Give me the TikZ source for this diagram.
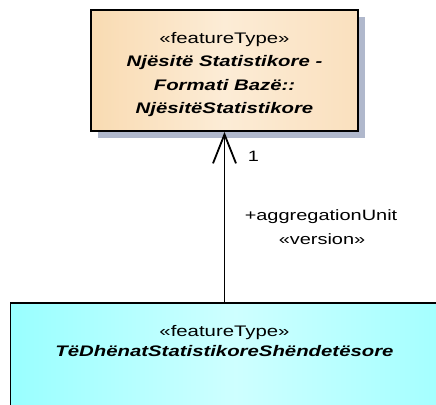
\documentclass[tikz,border=0pt]{standalone}
\usepackage{fontspec}
\setmainfont{Liberation Sans}[FakeStretch=1.33]
\usetikzlibrary{positioning}
\usetikzlibrary{arrows.meta, shadows}
\definecolor{tanleft}{RGB}{249,219,178}
\definecolor{tanmid}{RGB}{252,236,214}
\definecolor{tanright}{RGB}{250,224,190}
\definecolor{cyanleft}{RGB}{153,255,255}
\definecolor{cyanmid}{RGB}{206,255,255}
\definecolor{cyanright}{RGB}{160,255,255}
\definecolor{shadowgrey}{RGB}{176,184,204}

\begin{document}
\begin{tikzpicture}[x=1pt,y=-1pt,
  umlbox/.style={rectangle,draw=black,line width=1.9pt,inner sep=0pt,
    general shadow={fill=shadowgrey,shadow xshift=7pt,shadow yshift=-7pt}},
  tanbox/.style={umlbox,left color=tanleft,right color=tanright,middle color=tanmid},
  cyanbox/.style={umlbox,left color=cyanleft,right color=cyanright,middle color=cyanmid},
  classtext/.style={align=center,inner sep=0pt,font=\fontsize{15.3}{23.5}\selectfont},
  roletext/.style={inner sep=0pt,font=\fontsize{15}{18}\selectfont},
  assoc/.style={line width=1.8pt,-{Straight Barb[length=29pt,width=23pt,line width=1.8pt]}}]
\useasboundingbox (0,0) rectangle (436,404);
\clip (0,0) rectangle (436,404);

\node[tanbox,minimum width=267pt,minimum height=121pt] (feat) at (224.5,70.5) {};
\node[classtext] (featname) at (224.5,74.5) {«featureType»\\\textbf{\textit{Njësitë Statistikore -}}\\\textbf{\textit{Formati Bazë::}}\\\textbf{\textit{NjësitëStatistikore}}};

\node[cyanbox,minimum width=450pt,minimum height=140pt] (data) at (235.5,373) {};
\node[classtext,font=\fontsize{15.3}{20.5}\selectfont] (dataname) at (224.5,341) {«featureType»\\\textbf{\textit{TëDhënatStatistikoreShëndetësore}}};

\draw[assoc] (feat.south |- data.north) -- (feat.south);

\node[roletext] (mult) at (253.5,156) {1};
\node[roletext] (role) at (321,217) {+aggregationUnit};
\node[roletext] (stereo) at (322,239) {«version»};

\end{tikzpicture}
\end{document}
